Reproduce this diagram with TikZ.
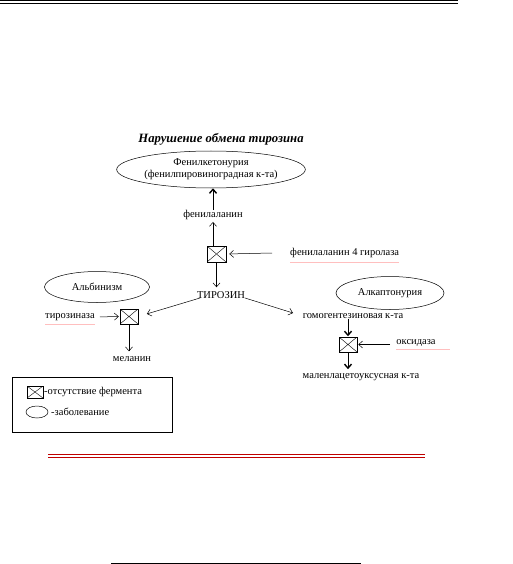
\documentclass[tikz,border=0pt]{standalone}
\usepackage{fontspec}
\setmainfont{Liberation Serif}
\usetikzlibrary{arrows.meta,shapes.geometric}
\tikzset{
  txt/.style={font=\fontsize{10.5}{12}\selectfont, inner sep=0pt},
  dis/.style={draw, ellipse, line width=0.5pt, inner sep=0pt, align=center, font=\fontsize{10.5}{12}\selectfont},
  enz/.style={draw, rectangle, line width=0.5pt, inner sep=0pt, minimum width=18pt, minimum height=15pt,
    path picture={\draw[line width=0.4pt] (path picture bounding box.north west) -- (path picture bounding box.south east)
      (path picture bounding box.south west) -- (path picture bounding box.north east);}},
  arr/.style={-{Straight Barb[length=4pt,width=7pt]}, line width=0.5pt},
  barr/.style={-{Straight Barb[length=4pt,width=7pt,line width=1.4pt]}, line width=0.6pt},
  redline/.style={red!75!black, line width=0.9pt},
  spell/.style={red!25, line width=0.4pt}
}
\begin{document}
\begin{tikzpicture}[x=1pt,y=-1pt]
\useasboundingbox (0,0) rectangle (513,564);
% top double rule
\coordinate (t1) at (0,0.8); \coordinate (t2) at (458,0.8);
\coordinate (t3) at (0,3.2); \coordinate (t4) at (458,3.2);
\draw[line width=1pt] (t1) -- (t2);
\draw[line width=1.3pt] (t3) -- (t4);
% title
\node[font=\bfseries\itshape\fontsize{12.7}{15}\selectfont, inner sep=0pt] (title) at (221,139) {Нарушение обмена тирозина};
% phenylketonuria
\node[dis, minimum width=154pt, minimum height=37pt] (e1) at (211,169.5) {Фенилкетонурия\\(фенилпировиноградная к-та)};
\node[txt] (phe) at (213,215) {фенилаланин};
\node[enz, minimum width=19pt, minimum height=16pt] (b1) at (216.5,254) {};
\node[txt, anchor=west] (hyd) at (290,253) {фенилаланин 4 гиролаза};
\coordinate (h0) at (272,253);
\draw[spell] ([yshift=-4pt]hyd.south west) -- ([yshift=-4pt]hyd.south east);
\draw[barr] (phe.north) -- (phe.north |- e1.south);
\draw[arr, shorten >=2pt] (b1.north -| phe) -- (phe.south);
\draw[arr, shorten >=3pt] (h0) -- (b1.east);
% tyrosine
\node[txt] (tyr) at (221,295) {ТИРОЗИН};
\draw[arr, shorten >=4pt] (b1.south) -- (b1.south |- tyr.north);
% albinism
\node[dis, minimum width=105pt, minimum height=31pt] (e2) at (97,287) {Альбинизм};
\node[enz] (b2) at (129,316.5) {};
\node[txt] (tyrase) at (70,317) {тирозиназа};
\draw[spell] ([yshift=-3pt]tyrase.south west) -- ([yshift=-3pt]tyrase.south east);
\node[txt] (mel) at (132,359) {меланин};
\coordinate (tl) at (200,298);
\draw[arr, shorten >=9pt] (tl) -- (b2.east);
\draw[arr, shorten <=5pt, shorten >=1pt] (tyrase.east) -- (b2.west);
\draw[arr, shorten >=5pt] (b2.south) -- (b2.south |- mel.north);
% alkaptonuria
\node[dis, minimum width=108pt, minimum height=33pt] (e3) at (390,293) {Алкаптонурия};
\node[txt] (hga) at (353,316) {гомогентезиновая к-та};
\node[enz] (b3) at (348,344.5) {};
\node[txt] (oxid) at (416,343) {оксидаза};
\draw[spell] ([yshift=-3pt]oxid.south west) -- ++(54,0);
\node[txt] (mal) at (361,377) {маленлацетоуксусная к-та};
\coordinate (tr) at (245,298);
\coordinate (o0) at (390,344.5);
\draw[arr] (tr) -- (293,313) coordinate (trend);
\draw[barr, shorten >=0.5pt] (b3.north |- hga.south) -- (b3.north);
\draw[arr, shorten >=1pt] (o0) -- (b3.east);
\draw[barr, shorten >=4pt] (b3.south) -- (b3.south |- mal.north);
% legend
\node[draw, line width=0.5pt, minimum width=160pt, minimum height=55pt, inner sep=0pt] (leg) at (92,404.5) {};
\node[enz, minimum width=16pt, minimum height=12pt] (lb) at (35,392) {};
\node[txt, anchor=west] (lbt) at (44,392) {-отсутствие фермента};
\node[draw, ellipse, line width=0.5pt, minimum width=22pt, minimum height=12pt, inner sep=0pt] (le) at (37,412) {};
\node[txt, anchor=west] (let) at (51,412) {-заболевание};
% red double rule
\coordinate (r1) at (48,454.8); \coordinate (r2) at (425,454.8);
\coordinate (r3) at (48,457.6); \coordinate (r4) at (425,457.6);
\draw[redline] (r1) -- (r2);
\draw[redline] (r3) -- (r4);
% bottom rule
\coordinate (u1) at (111,563); \coordinate (u2) at (361,563);
\draw[line width=1pt] (u1) -- (u2);
\end{tikzpicture}
\end{document}
